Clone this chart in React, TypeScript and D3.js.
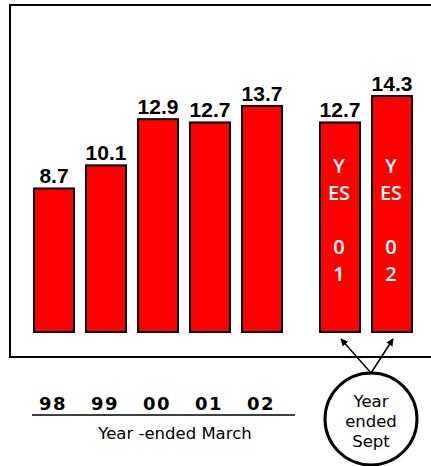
import React from 'react';
import * as d3 from 'd3';

// Year-ended March figures
const marchYears = ['98', '99', '00', '01', '02'];
const marchValues = [8.7, 10.1, 12.9, 12.7, 13.7];
// Year-ended September figures
const septValues = [12.7, 14.3];
const septBarText = [
  ['Y', 'ES', '', '0', '1'],
  ['Y', 'ES', '', '0', '2'],
];
const axisTitle = 'Year -ended March';
const calloutLines = ['Year', 'ended', 'Sept'];

const W = 431;
const H = 466;

export default function App() {
  const baseY = 332;
  const y = d3.scaleLinear().domain([0, 15]).range([baseY, baseY - 247.5]);
  // slot positions: five March bars, then a gap, then two September bars
  const x = d3.scaleLinear().domain([0, 1]).range([54, 106]);
  const barW = 40;
  const marchSlots = marchValues.map((_, i) => i);
  const septSlots = septValues.map((_, i) => 5.5 + i);

  const bars = [
    ...marchValues.map((v, i) => ({ v, slot: marchSlots[i], inner: null as string[] | null })),
    ...septValues.map((v, i) => ({ v, slot: septSlots[i], inner: septBarText[i] })),
  ];

  const circle = { cx: 371, cy: 419, r: 46 };
  const arrowStart = { x: circle.cx, y: circle.cy - circle.r };
  const arrowTargets = septSlots.map((s) => ({ x: x(s) + 1, y: 339 }));

  return (
    <svg
      width={W}
      height={H}
      style={{ position: 'fixed', left: 0, top: 0, background: '#fff' }}
    >
      <defs>
        <marker id="ah" viewBox="0 0 10 10" refX="9" refY="5" markerWidth="5" markerHeight="5" orient="auto">
          <path d="M0,0 L10,5 L0,10 z" fill="#000" />
        </marker>
      </defs>
      {/* frame */}
      <path d={`M${W + 5},5 H10 V357 H${W + 5}`} fill="none" stroke="#000" strokeWidth={2} />

      {bars.map((b, i) => {
        const cx = x(b.slot);
        const top = y(b.v);
        return (
          <g key={i}>
            <rect
              x={cx - barW / 2}
              y={top}
              width={barW}
              height={baseY - top}
              fill="#ff0000"
              stroke="#000"
              strokeWidth={2}
            />
            <text
              x={cx}
              y={top - 5}
              textAnchor="middle"
              fontFamily="Liberation Sans, Arial, sans-serif"
              fontWeight="bold"
              fontSize={21}
              fill="#000"
            >
              {b.v.toFixed(1)}
            </text>
            {b.inner &&
              b.inner.map((t, j) => (
                <text
                  key={j}
                  x={cx - 1}
                  y={173 + j * 27}
                  textAnchor="middle"
                  fontFamily="Open Sans, sans-serif"
                  fontWeight={600}
                  fontSize={20}
                  fill="#fff"
                >
                  {t}
                </text>
              ))}
          </g>
        );
      })}

      {/* category labels */}
      {marchYears.map((c, i) => (
        <text
          key={c + i}
          x={x(marchSlots[i]) - 1}
          y={410}
          textAnchor="middle"
          fontFamily="DejaVu Sans, sans-serif"
          fontWeight="bold"
          fontSize={18}
          letterSpacing={1.5}
          fill="#000"
        >
          {c}
        </text>
      ))}
      <line x1={32} x2={295} y1={415} y2={415} stroke="#000" strokeWidth={1.5} />
      <text
        x={175}
        y={439}
        textAnchor="middle"
        fontFamily="DejaVu Sans, sans-serif"
        fontSize={16.5}
        fill="#000"
      >
        {axisTitle}
      </text>

      {/* callout */}
      {arrowTargets.map((t, i) => (
        <line
          key={i}
          x1={arrowStart.x}
          y1={arrowStart.y}
          x2={t.x}
          y2={t.y}
          stroke="#000"
          strokeWidth={1.5}
          markerEnd="url(#ah)"
        />
      ))}
      <circle cx={circle.cx} cy={circle.cy} r={circle.r} fill="#fff" stroke="#000" strokeWidth={3} />
      {calloutLines.map((t, i) => (
        <text
          key={t}
          x={circle.cx}
          y={407 + i * 20}
          textAnchor="middle"
          fontFamily="DejaVu Sans, sans-serif"
          fontSize={16.5}
          fill="#000"
        >
          {t}
        </text>
      ))}
    </svg>
  );
}
